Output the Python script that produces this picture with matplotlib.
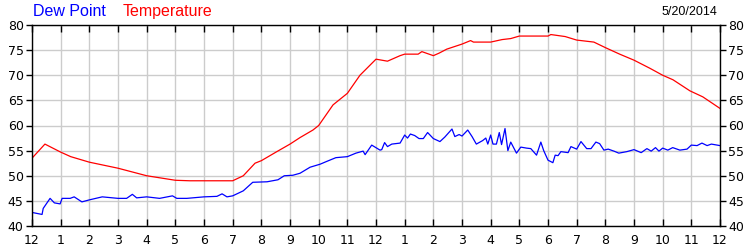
import matplotlib
matplotlib.use("Agg")
import matplotlib.pyplot as plt

# Temperature (hour of day, degF)
temp_hours = [0, 0.45, 1.0, 1.35, 2.0, 3.0, 4.0, 5.0, 5.5, 6.0, 7.0, 7.37, 7.78, 8.0, 8.54, 9.0,
              9.35, 9.8, 10.0, 10.5, 11.0, 11.44, 12.0, 12.4, 12.84, 13.0, 13.47, 13.6, 14.0,
              14.2, 14.47, 15.0, 15.3, 15.4, 16.0, 16.4, 16.7, 17.0, 18.0, 18.1, 18.6, 19.0,
              19.6, 20.0, 20.5, 21.0, 21.55, 22.0, 22.36, 22.95, 23.4, 24.0]
temp_vals = [53.5, 56.3, 54.7, 53.8, 52.7, 51.5, 50.0, 49.1, 49.0, 49.0, 49.0, 50.0, 52.5, 53.0,
             54.8, 56.3, 57.6, 59.1, 60.0, 64.1, 66.4, 70.0, 73.2, 72.8, 73.9, 74.2, 74.2, 74.7,
             73.9, 74.4, 75.2, 76.2, 76.9, 76.6, 76.6, 77.1, 77.3, 77.8, 77.8, 78.1, 77.7, 77.0,
             76.6, 75.5, 74.2, 73.0, 71.4, 70.0, 69.1, 66.9, 65.7, 63.4]

# Dew point (hour of day, degF)
dew_hours = [0, 0.35, 0.39, 0.63, 0.78, 0.98, 1.05, 1.33, 1.47, 1.74, 2.0, 2.45, 3.0, 3.3, 3.5,
             3.65, 4.0, 4.45, 4.9, 5.05, 5.4, 6.0, 6.45, 6.63, 6.8, 7.0, 7.37, 7.7, 8.2, 8.58,
             8.8, 9.1, 9.35, 9.7, 10.05, 10.3, 10.6, 11.0, 11.3, 11.55, 11.62, 11.85, 12.14,
             12.2, 12.3, 12.4, 12.55, 12.84, 13.0, 13.1, 13.2, 13.35, 13.5, 13.65, 13.8, 14.0,
             14.23, 14.4, 14.65, 14.75, 14.9, 15.0, 15.2, 15.35, 15.5, 15.72, 15.83, 15.9,
             16.0, 16.08, 16.2, 16.3, 16.38, 16.5, 16.6, 16.7, 16.9, 17.05, 17.25, 17.4, 17.6,
             17.75, 17.85, 18.0, 18.17, 18.25, 18.35, 18.45, 18.7, 18.8, 19.0, 19.15, 19.35,
             19.5, 19.67, 19.8, 19.95, 20.1, 20.3, 20.47, 20.75, 21.0, 21.25, 21.45, 21.6,
             21.75, 21.87, 22.0, 22.18, 22.35, 22.6, 22.85, 23.0, 23.2, 23.37, 23.55, 23.7,
             24.0]
dew_vals = [42.7, 42.3, 43.5, 45.5, 44.6, 44.4, 45.5, 45.5, 45.8, 44.8, 45.2, 45.8, 45.5, 45.5,
            46.3, 45.6, 45.8, 45.5, 46.0, 45.5, 45.5, 45.8, 45.9, 46.4, 45.8, 46.0, 47.0, 48.7,
            48.8, 49.2, 50.0, 50.1, 50.5, 51.7, 52.3, 52.9, 53.6, 53.8, 54.5, 54.9, 54.2, 56.1,
            55.1, 55.2, 56.6, 55.8, 56.3, 56.5, 58.1, 57.5, 58.3, 58.0, 57.4, 57.4, 58.6, 57.4,
            56.8, 57.7, 59.3, 57.8, 58.2, 57.9, 59.1, 57.8, 56.3, 57.0, 57.5, 56.3, 58.1, 56.3,
            56.3, 58.6, 56.2, 59.4, 55.0, 56.7, 54.5, 55.7, 55.5, 55.4, 54.1, 56.7, 55.0, 53.1,
            52.6, 54.1, 54.0, 54.8, 54.6, 55.8, 55.3, 56.8, 55.4, 55.4, 56.7, 56.4, 55.1, 55.3,
            54.9, 54.5, 54.8, 55.2, 54.6, 55.4, 54.9, 55.6, 54.9, 55.5, 55.1, 55.6, 55.1, 55.3,
            56.1, 56.0, 56.5, 56.0, 56.3, 56.0]

x_ticks = list(range(0, 25))
x_labels = ["12", "1", "2", "3", "4", "5", "6", "7", "8", "9", "10", "11",
            "12", "1", "2", "3", "4", "5", "6", "7", "8", "9", "10", "11", "12"]
y_ticks = [40, 45, 50, 55, 60, 65, 70, 75, 80]

plt.rcParams['font.family'] = ['DejaVu Sans']
fig = plt.figure(figsize=(7.5, 2.5), dpi=100)
ax = fig.add_axes([0.0427, 0.096, 0.9173, 0.804])

ax.plot(temp_hours, temp_vals, color='#ff0000', lw=0.9)
ax.plot(dew_hours, dew_vals, color='#0000ff', lw=0.9)

ax.set_xlim(0, 24)
ax.set_ylim(40, 80)
ax.set_xticks(x_ticks)
ax.set_xticklabels(x_labels)
ax.set_yticks(y_ticks)
ax.grid(True, color='#cccccc', lw=1.0)
ax.set_axisbelow(True)
for s in ax.spines.values():
    s.set_color('black')
    s.set_linewidth(1.0)

ax.tick_params(axis='x', which='both', direction='in', top=True, bottom=True,
               length=5, width=1, labelsize=9, pad=6, colors='black')
ax.tick_params(axis='y', which='both', direction='out', left=True, right=True,
               labelleft=True, labelright=True, length=4, width=1, labelsize=9, pad=2)

fig.text(0.044, 0.985, "Dew Point", color='#0000ff', fontsize=11.5, va='top', ha='left',
         family=['Liberation Sans'])
fig.text(0.164, 0.985, "Temperature", color='#ff0000', fontsize=11.5, va='top', ha='left',
         family=['Liberation Sans'])
fig.text(0.957, 0.975, "5/20/2014", color='black', fontsize=9, va='top', ha='right',
         family=['Liberation Sans'])

fig.savefig("out.png", dpi=100)
